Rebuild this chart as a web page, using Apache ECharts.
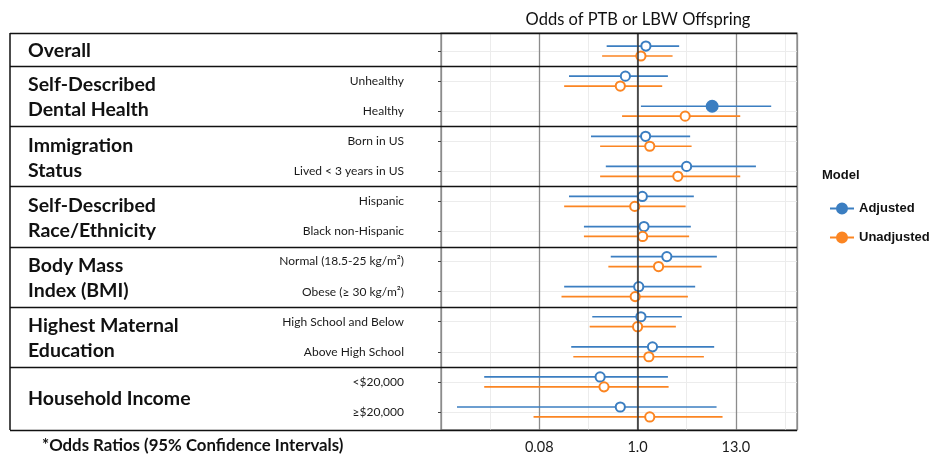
<!DOCTYPE html>
<html>
<head>
<meta charset="utf-8">
<script src="https://cdn.jsdelivr.net/npm/echarts@6/dist/echarts.min.js"></script>
<style>
  html, body { margin: 0; padding: 0; background: #fff; }
  #chart { width: 930px; height: 455px; }
</style>
</head>
<body>
<div id="chart"></div>
<script>
// row labels (row 1 = Overall, no sub label)
const rowLabels = ['', 'Unhealthy', 'Healthy', 'Born in US', 'Lived < 3 years in US',
  'Hispanic', 'Black non-Hispanic', 'Normal (18.5-25 kg/m²)', 'Obese (≥ 30 kg/m²)',
  'High School and Below', 'Above High School', '<$20,000', '≥$20,000']

// group titles and the rows they span
const groupTitles = ['Overall', 'Self-Described\nDental Health', 'Immigration\nStatus',
  'Self-Described\nRace/Ethnicity', 'Body Mass\nIndex (BMI)', 'Highest Maternal\nEducation',
  'Household Income']
const groupFirstRow = [1, 2, 4, 6, 8, 10, 12]
const groupLastRow = [1, 3, 5, 7, 9, 11, 13]

// odds ratios and 95% CI
const adjOR = [1.24, 0.73, 6.87, 1.23, 3.55, 1.13, 1.18, 2.13, 1.03, 1.09, 1.47, 0.38, 0.64]
const adjLo = [0.45, 0.17, 1.09, 0.30, 0.44, 0.17, 0.25, 0.50, 0.15, 0.31, 0.18, 0.019, 0.0094]
const adjHi = [2.93, 2.19, 31.6, 3.89, 21.3, 4.28, 3.96, 7.76, 4.43, 3.14, 7.24, 2.19, 7.70]
const unadjOR = [1.09, 0.64, 3.42, 1.37, 2.83, 0.93, 1.14, 1.72, 0.94, 1.00, 1.34, 0.42, 1.37]
const unadjLo = [0.40, 0.15, 0.67, 0.38, 0.38, 0.15, 0.25, 0.47, 0.14, 0.29, 0.19, 0.019, 0.068]
const unadjHi = [2.47, 1.89, 14.2, 4.04, 14.2, 3.46, 3.79, 5.23, 3.67, 2.69, 5.55, 2.23, 8.99]

// x tick labels (axis runs on ln(OR))
const xTickValues = [-2.54, 0, 2.54]
const xTickLabels = ['0.08', '1.0', '13.0']

const BLUE = '#3b7ec1'
const ORANGE = '#fb8522'
const DODGE = 0.165

const chart = echarts.init(document.getElementById('chart'))

function buildData(or, lo, hi, shift) {
  return or.map((v, i) => {
    const sig = (lo[i] > 1 || hi[i] < 1) ? 1 : 0
    return [Math.log(v), Math.log(lo[i]), Math.log(hi[i]), i + 1 + shift, sig]
  })
}

function makeRender(color) {
  return function (params, api) {
    const y = api.value(3)
    const p = api.coord([api.value(0), y])
    const a = api.coord([api.value(1), y])
    const b = api.coord([api.value(2), y])
    return {
      type: 'group',
      children: [
        { type: 'line', shape: { x1: a[0], y1: a[1], x2: b[0], y2: b[1] },
          style: { stroke: color, lineWidth: 1.7 } },
        { type: 'circle', shape: { cx: p[0], cy: p[1], r: api.value(4) ? 5.5 : 4.6 },
          style: { fill: api.value(4) ? color : '#fff', stroke: color, lineWidth: 2 } }
      ]
    }
  }
}

const legendIcon = 'path://M0,5H24V7H0Z M6,6A6,6 0 1,1 18,6A6,6 0 1,1 6,6Z'
const rowTicks = rowLabels.map((d, i) => i + 1)

const option = {
  animation: false,
  grid: { left: 441, right: 133, top: 33, bottom: 22, show: true,
    borderColor: '#8c8c8c', borderWidth: 1.3, backgroundColor: 'transparent' },
  xAxis: [
    {
      // minor grid
      type: 'value', min: -5.08, max: 4.12, interval: 1.27, position: 'bottom',
      axisLine: { show: false }, axisTick: { show: false }, axisLabel: { show: false },
      splitLine: { show: true, lineStyle: { color: '#ececec', width: 1 } }
    },
    {
      type: 'value', min: -5.08, max: 4.12, interval: 2.54, position: 'bottom',
      axisLine: { show: false }, axisTick: { show: false },
      axisLabel: {
        margin: 10, fontSize: 14.5, color: '#1a1a1a', fontFamily: 'Lato',
        formatter: v => {
          const k = xTickValues.findIndex(t => Math.abs(t - v) < 1e-6)
          return k >= 0 ? xTickLabels[k] : ''
        }
      },
      splitLine: { show: true, lineStyle: { color: '#8c8c8c', width: 1.3 } }
    }
  ],
  yAxis: {
    type: 'value', min: 0.4, max: 13.6, inverse: true, position: 'left',
    axisLine: { show: false, onZero: false },
    axisTick: { show: true, customValues: rowTicks, length: 3, lineStyle: { color: '#444' } },
    axisLabel: {
      customValues: rowTicks, margin: 37, fontSize: 12, color: '#1a1a1a', fontFamily: 'Lato',
      formatter: v => rowLabels[Math.round(v) - 1] || ''
    },
    splitLine: { show: true, lineStyle: { color: '#ececec', width: 1 } }
  },
  legend: {
    orient: 'vertical', left: 825, top: 197, itemWidth: 24, itemHeight: 12, itemGap: 16,
    textStyle: { fontFamily: 'Liberation Sans', fontWeight: 'bold', fontSize: 13, color: '#111' },
    data: [{ name: 'Adjusted', icon: legendIcon }, { name: 'Unadjusted', icon: legendIcon }]
  },
  series: [
    {
      name: 'Adjusted', type: 'custom', xAxisIndex: 1, itemStyle: { color: BLUE },
      renderItem: makeRender(BLUE), encode: { x: [0, 1, 2], y: 3 },
      data: buildData(adjOR, adjLo, adjHi, -DODGE),
      markLine: {
        silent: true, symbol: 'none', label: { show: false },
        lineStyle: { color: '#333', width: 1.5, type: 'solid' },
        data: [{ xAxis: 0 }]
      },
      z: 3
    },
    {
      name: 'Unadjusted', type: 'custom', xAxisIndex: 1, itemStyle: { color: ORANGE },
      renderItem: makeRender(ORANGE), encode: { x: [0, 1, 2], y: 3 },
      data: buildData(unadjOR, unadjLo, unadjHi, DODGE),
      z: 3
    }
  ]
}
chart.setOption(option)

// table lines and labels, placed from the y scale
const px = v => chart.convertToPixel({ yAxisIndex: 0 }, v)
const xLeft = 10, xRight = 797
const bounds = [0.4].concat(groupLastRow.slice(0, -1).map(r => r + 0.5), [13.6])
const graphics = []
bounds.forEach(b => {
  const y = Math.round(px(b)) + 0.5
  graphics.push({ type: 'line', shape: { x1: xLeft, y1: y, x2: xRight, y2: y },
    style: { stroke: '#111', lineWidth: 1.5 }, z: 10 })
})
graphics.push({ type: 'line', shape: { x1: xLeft, y1: px(0.4), x2: xLeft, y2: px(13.6) },
  style: { stroke: '#111', lineWidth: 1.5 }, z: 10 })
groupTitles.forEach((t, i) => {
  const c = (px(groupFirstRow[i]) + px(groupLastRow[i])) / 2
  graphics.push({ type: 'text', x: 28, y: c + (groupFirstRow[i] === groupLastRow[i] ? 0 : 1.5),
    style: { text: t, fontFamily: 'Lato', fontWeight: 'bold', fontSize: 19.5, fill: '#111',
      lineHeight: 25, verticalAlign: 'middle', align: 'left' } })
})
graphics.push({ type: 'text', x: 638, y: 20,
  style: { text: 'Odds of PTB or LBW Offspring', fontFamily: 'Lato', fontSize: 16.5, fill: '#111',
    align: 'center', verticalAlign: 'middle' } })
graphics.push({ type: 'text', x: 42, y: 446,
  style: { text: '*Odds Ratios (95% Confidence Intervals)', fontFamily: 'Lato', fontWeight: 'bold',
    fontSize: 16.8, fill: '#111', align: 'left', verticalAlign: 'middle' } })
graphics.push({ type: 'text', x: 822, y: 175,
  style: { text: 'Model', fontFamily: 'Liberation Sans', fontWeight: 'bold', fontSize: 13,
    fill: '#111', align: 'left', verticalAlign: 'middle' } })
chart.setOption({ graphic: graphics })
</script>
</body>
</html>
